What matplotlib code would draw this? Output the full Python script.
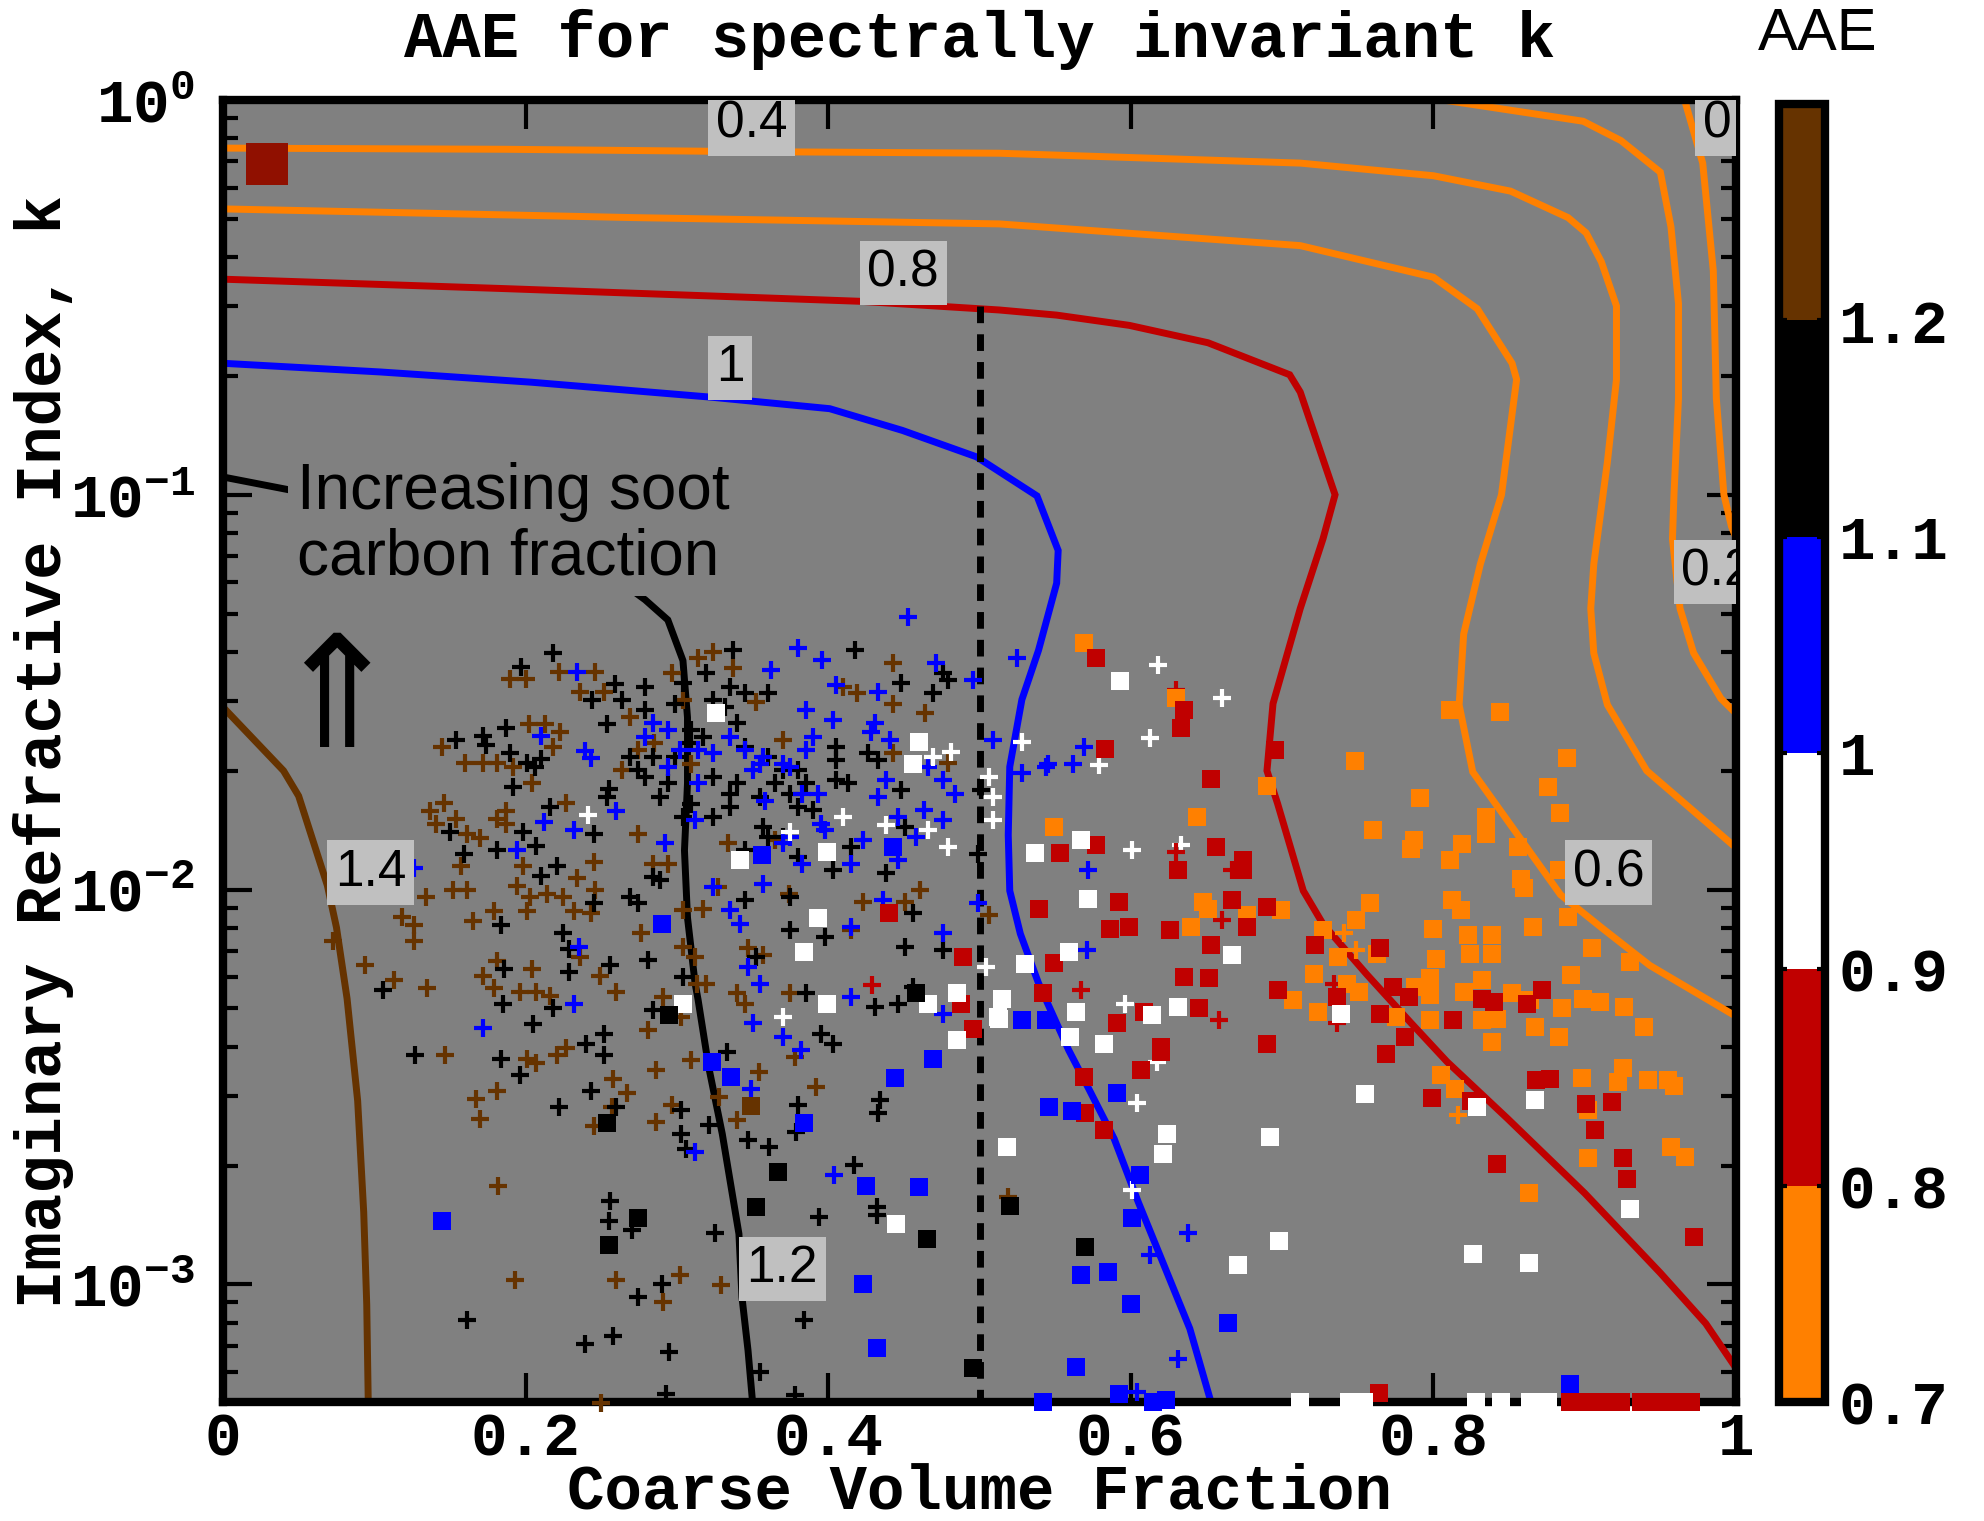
import numpy as np
import matplotlib.pyplot as plt
from matplotlib.colors import ListedColormap, BoundaryNorm
from matplotlib.cm import ScalarMappable
from matplotlib.ticker import FixedLocator, NullLocator, LogLocator, FuncFormatter
from matplotlib.transforms import offset_copy

plt.rcParams['mathtext.fontset'] = 'custom'
plt.rcParams['mathtext.rm'] = 'Liberation Mono:bold'
plt.rcParams['mathtext.bf'] = 'Liberation Mono:bold'
plt.rcParams['mathtext.it'] = 'Liberation Mono:bold'

MONO = 'Liberation Mono'
SANS = 'Liberation Sans'

# colours used for AAE classes
c_brown, c_black, c_blue = '#663300', '#000000', '#0000FF'
c_white, c_red, c_orange = '#FFFFFF', '#C00000', '#FF8000'
c_bg, c_lab = '#808080', '#C0C0C0'

# ---- contour lines (x = coarse fraction, lk = log10 k) ----
c14_x = [0, 0.040, 0.050, 0.069, 0.075, 0.082, 0.089, 0.093, 0.095, 0.096]
c14_lk = [-1.538, -1.699, -1.763, -1.990, -2.096, -2.276, -2.535, -2.817, -3.051, -3.298]

c12_x = [0, 0.047, 0.104, 0.171, 0.221, 0.254, 0.279, 0.294, 0.304, 0.307, 0.307, 0.305, 0.307,
         0.312, 0.314, 0.321, 0.330, 0.341, 0.343, 0.347, 0.350]
c12_lk = [-0.955, -0.990, -1.022, -1.067, -1.131, -1.196, -1.266, -1.317, -1.420, -1.564, -1.731,
          -1.901, -2.071, -2.237, -2.279, -2.449, -2.619, -2.872, -3.032, -3.167, -3.298]

c10_x = [0, 0.104, 0.204, 0.323, 0.401, 0.449, 0.498, 0.538, 0.552, 0.551, 0.539, 0.528, 0.520,
         0.519, 0.520, 0.527, 0.539, 0.559, 0.572, 0.589, 0.605, 0.622, 0.639, 0.653]
c10_lk = [-0.667, -0.689, -0.715, -0.753, -0.782, -0.837, -0.904, -1.003, -1.141, -1.224, -1.394,
          -1.519, -1.689, -1.862, -2.003, -2.112, -2.237, -2.407, -2.503, -2.631, -2.792, -2.952,
          -3.112, -3.298]

c08_x = [0, 0.187, 0.421, 0.513, 0.551, 0.599, 0.651, 0.705, 0.712, 0.735, 0.727, 0.712, 0.694,
         0.690, 0.697, 0.714, 0.727, 0.756, 0.785, 0.809, 0.849, 0.900, 0.950, 0.980, 1.0]
c08_lk = [-0.454, -0.478, -0.510, -0.532, -0.545, -0.571, -0.615, -0.696, -0.740, -1.0, -1.112,
          -1.288, -1.529, -1.699, -1.782, -2.003, -2.087, -2.215, -2.337, -2.436, -2.580, -2.769,
          -2.971, -3.099, -3.212]

c04_x = [0, 0.187, 0.350, 0.513, 0.712, 0.800, 0.851, 0.889, 0.901, 0.911, 0.921, 0.921, 0.915,
         0.906, 0.904, 0.906, 0.915, 0.941, 1.0]
c04_lk = [-0.122, -0.125, -0.131, -0.135, -0.160, -0.192, -0.231, -0.298, -0.337, -0.410, -0.522,
          -0.708, -0.917, -1.176, -1.288, -1.401, -1.532, -1.699, -1.894]

c06_x = [0, 0.271, 0.513, 0.712, 0.800, 0.829, 0.852, 0.855, 0.845, 0.831, 0.820, 0.817, 0.826,
         0.884, 0.911, 0.943, 1.0]
c06_lk = [-0.276, -0.298, -0.314, -0.369, -0.449, -0.529, -0.667, -0.708, -1.0, -1.176, -1.353,
          -1.532, -1.702, -2.013, -2.096, -2.192, -2.321]

c02_x = [0.806, 0.899, 0.924, 0.950, 0.957, 0.962, 0.962, 0.959, 0.958, 0.963, 0.972, 0.990, 1.0]
c02_lk = [0.0, -0.054, -0.103, -0.183, -0.321, -0.516, -0.756, -1.0, -1.112, -1.288, -1.401,
          -1.516, -1.554]

c00_x = [0.966, 0.978, 0.985, 0.987, 0.992, 0.997, 1.0]
c00_lk = [0.0, -0.160, -0.433, -0.756, -1.0, -1.08, -1.109]

contours = [(c14_x, c14_lk, c_brown), (c12_x, c12_lk, c_black), (c10_x, c10_lk, c_blue),
            (c08_x, c08_lk, c_red), (c04_x, c04_lk, c_orange), (c06_x, c06_lk, c_orange),
            (c02_x, c02_lk, c_orange), (c00_x, c00_lk, c_orange)]

# contour labels: text, x, log10 k of the lower-left corner
label_text = ['0.4', '0.8', '1', '1.4', '1.2', '0.6', '0.2', '0']
label_x = [0.321, 0.421, 0.321, 0.069, 0.341, 0.887, 0.959, 0.973]
label_lk = [-0.141, -0.519, -0.760, -2.038, -3.042, -2.038, -1.276, -0.141]

split_x, split_top_lk = 0.5, -0.522
ref_x, ref_lk = 0.029, -0.163

# ---- measurements: (coarse fraction, log10 k) ----
brown_plus = [
    (0.190, -1.467), (0.200, -1.467), (0.222, -1.448), (0.246, -1.448), (0.236, -1.50), (0.252, -1.50),
    (0.145, -1.64), (0.160, -1.68), (0.172, -1.68), (0.181, -1.68), (0.192, -1.69), (0.202, -1.58),
    (0.213, -1.58), (0.223, -1.60), (0.218, -1.64), (0.204, -1.73), (0.137, -1.80), (0.146, -1.78),
    (0.141, -1.835), (0.154, -1.82), (0.161, -1.86), (0.170, -1.87), (0.157, -1.94), (0.181, -1.82),
    (0.187, -1.835), (0.187, -1.80), (0.227, -1.78), (0.245, -1.93), (0.234, -1.97), (0.198, -1.94),
    (0.194, -1.99), (0.203, -2.02), (0.214, -2.01), (0.225, -2.02), (0.232, -2.055), (0.246, -2.00),
    (0.243, -2.06), (0.201, -2.055), (0.179, -2.055), (0.165, -2.08), (0.152, -2.00), (0.161, -2.00),
    (0.134, -2.02), (0.118, -2.07), (0.126, -2.09), (0.126, -2.13), (0.073, -2.13), (0.094, -2.19),
    (0.113, -2.23), (0.135, -2.25), (0.172, -2.22), (0.181, -2.18), (0.179, -2.25), (0.196, -2.26),
    (0.204, -2.20), (0.207, -2.26), (0.216, -2.27), (0.236, -2.17), (0.249, -2.22), (0.260, -2.26),
    (0.201, -2.43), (0.207, -2.44), (0.221, -2.42), (0.227, -2.40), (0.147, -2.42), (0.167, -2.53),
    (0.181, -2.51), (0.170, -2.58), (0.245, -2.60), (0.258, -2.48), (0.257, -2.55), (0.182, -2.75),
    (0.193, -2.99), (0.260, -2.99),
    (0.314, -1.414), (0.324, -1.398), (0.337, -1.44), (0.297, -1.452), (0.304, -1.52), (0.269, -1.562),
    (0.352, -1.524), (0.443, -1.427), (0.464, -1.554), (0.443, -1.529), (0.410, -1.486), (0.419, -1.503),
    (0.443, -1.655), (0.479, -1.68), (0.327, -1.993), (0.415, -2.103), (0.423, -2.031), (0.451, -2.031),
    (0.345, -2.289), (0.375, -2.263), (0.304, -2.145), (0.312, -2.17), (0.313, -2.238), (0.319, -2.238),
    (0.281, -2.356), (0.303, -2.322), (0.291, -2.272), (0.276, -2.111), (0.284, -1.934), (0.294, -1.934),
    (0.274, -1.858), (0.317, -2.048), (0.304, -2.052), (0.506, -2.065), (0.357, -2.166), (0.347, -2.149),
    (0.365, -1.875), (0.374, -2.01), (0.334, -1.883), (0.264, -1.697), (0.274, -1.647), (0.370, -1.621),
    (0.309, -1.681), (0.285, -1.63), (0.461, -2.00), (0.340, -2.263),
    (0.309, -2.432), (0.354, -2.462), (0.328, -2.525), (0.340, -2.584), (0.392, -2.50), (0.378, -2.424),
    (0.286, -2.457), (0.267, -2.516), (0.297, -2.546), (0.286, -2.588), (0.329, -3.002), (0.302, -2.977),
    (0.291, -3.044), (0.519, -2.778), (0.250, -3.30)]

black_plus = [
    (0.218, -1.40), (0.197, -1.435), (0.244, -1.52), (0.259, -1.48), (0.154, -1.62), (0.172, -1.61),
    (0.187, -1.59), (0.190, -1.655), (0.174, -1.635), (0.201, -1.68), (0.210, -1.67), (0.206, -1.69),
    (0.192, -1.74), (0.254, -1.58), (0.255, -1.745), (0.254, -1.765), (0.216, -1.79), (0.150, -1.855),
    (0.159, -1.91), (0.181, -1.90), (0.198, -1.855), (0.207, -1.89), (0.210, -1.965), (0.221, -1.94),
    (0.245, -1.86), (0.245, -2.035), (0.184, -2.09), (0.225, -2.11), (0.229, -2.15), (0.229, -2.21),
    (0.186, -2.20), (0.256, -2.19), (0.106, -2.255), (0.185, -2.29), (0.218, -2.30), (0.205, -2.34),
    (0.240, -2.39), (0.252, -2.365), (0.252, -2.42), (0.127, -2.42), (0.184, -2.43), (0.196, -2.47),
    (0.243, -2.51), (0.222, -2.55), (0.260, -2.55), (0.256, -2.79), (0.255, -2.84), (0.161, -3.09),
    (0.239, -3.15), (0.258, -3.13),
    (0.337, -1.393), (0.319, -1.452), (0.335, -1.486), (0.345, -1.503), (0.360, -1.503), (0.304, -1.478),
    (0.299, -1.529), (0.279, -1.545), (0.279, -1.486), (0.264, -1.52), (0.309, -1.596), (0.317, -1.613),
    (0.332, -1.537), (0.324, -1.52), (0.340, -1.579), (0.345, -1.638), (0.360, -1.664), (0.370, -1.697),
    (0.380, -1.697), (0.385, -1.731), (0.375, -1.757), (0.380, -1.79), (0.390, -1.799), (0.365, -1.731),
    (0.355, -1.765), (0.340, -1.731), (0.335, -1.757), (0.324, -1.714), (0.335, -1.79), (0.324, -1.816),
    (0.309, -1.782), (0.304, -1.816), (0.294, -1.731), (0.289, -1.765), (0.279, -1.714), (0.274, -1.697),
    (0.269, -1.664), (0.284, -1.664), (0.299, -1.664), (0.309, -1.63), (0.345, -1.90), (0.357, -1.841),
    (0.360, -1.866), (0.370, -1.866), (0.380, -1.917), (0.352, -2.17), (0.345, -2.027), (0.375, -2.018),
    (0.375, -2.103), (0.398, -2.12), (0.418, -1.393), (0.448, -1.478), (0.469, -1.503), (0.476, -1.452),
    (0.479, -1.469), (0.405, -1.638), (0.405, -1.672), (0.426, -1.655), (0.433, -1.672), (0.448, -1.748),
    (0.451, -1.841), (0.405, -1.723), (0.413, -1.731), (0.403, -1.951), (0.415, -1.892), (0.438, -1.959),
    (0.501, -1.748), (0.499, -1.909), (0.456, -2.06), (0.451, -2.145), (0.476, -2.154), (0.385, -2.263),
    (0.431, -2.297), (0.446, -2.289), (0.456, -2.246), (0.395, -2.365), (0.403, -2.39), (0.304, -2.221),
    (0.281, -2.179), (0.284, -1.968), (0.289, -1.976), (0.269, -2.018), (0.274, -2.035), (0.284, -2.306),
    (0.333, -2.411), (0.303, -2.559), (0.321, -2.597), (0.303, -2.618), (0.306, -2.656), (0.347, -2.635),
    (0.361, -2.652), (0.380, -2.546), (0.379, -2.614), (0.434, -2.533), (0.433, -2.567), (0.417, -2.698),
    (0.432, -2.804), (0.432, -2.825), (0.394, -2.829), (0.325, -2.871), (0.270, -2.863), (0.290, -2.998),
    (0.274, -3.032), (0.384, -3.091), (0.295, -3.171), (0.355, -3.222), (0.293, -3.277), (0.378, -3.281)]

blue_plus = [
    (0.234, -1.448), (0.210, -1.61), (0.239, -1.65), (0.243, -1.667), (0.212, -1.83), (0.232, -1.85),
    (0.194, -1.90), (0.235, -2.146), (0.232, -2.29), (0.172, -2.35), (0.260, -1.80), (0.126, -1.945),
    (0.453, -1.309), (0.380, -1.389), (0.396, -1.419), (0.362, -1.444), (0.471, -1.427), (0.496, -1.469),
    (0.433, -1.499), (0.405, -1.482), (0.385, -1.545), (0.431, -1.579), (0.428, -1.60), (0.441, -1.621),
    (0.403, -1.571), (0.390, -1.613), (0.385, -1.647), (0.357, -1.664), (0.370, -1.681), (0.375, -1.689),
    (0.355, -1.681), (0.350, -1.697), (0.345, -1.647), (0.335, -1.613), (0.324, -1.655), (0.314, -1.647),
    (0.302, -1.647), (0.294, -1.596), (0.284, -1.579), (0.279, -1.613), (0.294, -1.689), (0.314, -1.731),
    (0.358, -1.775), (0.383, -1.757), (0.393, -1.757), (0.395, -1.833), (0.398, -1.849), (0.375, -1.866),
    (0.370, -1.883), (0.383, -1.934), (0.415, -1.934), (0.446, -1.925), (0.423, -1.875), (0.433, -1.765),
    (0.438, -1.723), (0.466, -1.689), (0.476, -1.723), (0.484, -1.757), (0.463, -1.799), (0.476, -1.824),
    (0.458, -1.866), (0.446, -1.816), (0.312, -1.824), (0.292, -1.883), (0.324, -1.993), (0.335, -2.052),
    (0.342, -2.086), (0.357, -1.985), (0.415, -2.094), (0.436, -2.027), (0.476, -2.111), (0.347, -2.196),
    (0.355, -2.238), (0.415, -2.272), (0.476, -2.314), (0.350, -2.339), (0.499, -2.035), (0.509, -1.621),
    (0.370, -2.373),
    (0.525, -1.414), (0.528, -1.706), (0.544, -1.689), (0.562, -1.681), (0.569, -1.638), (0.572, -1.951),
    (0.571, -2.154), (0.545, -1.681),
    (0.349, -2.504), (0.312, -2.664), (0.404, -2.723), (0.382, -2.407),
    (0.638, -2.871), (0.613, -2.926), (0.631, -3.188), (0.604, -3.272)]

white_plus = [
    (0.241, -1.81), (0.410, -1.816), (0.438, -1.837), (0.469, -1.664), (0.481, -1.651), (0.479, -1.892),
    (0.506, -1.714), (0.509, -1.765), (0.509, -1.824), (0.370, -2.322), (0.504, -2.196), (0.466, -1.85),
    (0.375, -1.854), (0.618, -1.431), (0.660, -1.516), (0.613, -1.617), (0.579, -1.685), (0.528, -1.626),
    (0.601, -1.90), (0.633, -1.887), (0.596, -2.289), (0.601, -2.761), (0.604, -2.54), (0.617, -2.436)]

red_plus = [(0.429, -2.242), (0.630, -1.495), (0.630, -1.904), (0.667, -1.951), (0.660, -2.078),
            (0.567, -2.255), (0.658, -2.331), (0.734, -2.238), (0.736, -2.339)]

orange_plus = [(0.741, -2.111), (0.749, -2.154), (0.816, -2.571)]

orange_sq = [
    (0.569, -1.376), (0.630, -1.516), (0.549, -1.841), (0.644, -1.816), (0.690, -1.738), (0.748, -1.675),
    (0.791, -1.769), (0.811, -1.544), (0.844, -1.55), (0.888, -1.668), (0.876, -1.741), (0.884, -1.807),
    (0.835, -1.816), (0.835, -1.858), (0.819, -1.885), (0.811, -1.925), (0.787, -1.875), (0.785, -1.896),
    (0.760, -1.849), (0.856, -1.892), (0.858, -1.972), (0.860, -1.997), (0.883, -1.951), (0.889, -2.069),
    (0.812, -2.027), (0.818, -2.052), (0.866, -2.094), (0.905, -2.149), (0.930, -2.183), (0.891, -2.217),
    (0.839, -2.116), (0.823, -2.116), (0.839, -2.162), (0.824, -2.162), (0.802, -2.175), (0.800, -2.099),
    (0.758, -2.035), (0.749, -2.078), (0.763, -2.162), (0.737, -2.17), (0.727, -2.103), (0.721, -2.213),
    (0.743, -2.238), (0.751, -2.259), (0.707, -2.28), (0.724, -2.31), (0.798, -2.225), (0.788, -2.246),
    (0.798, -2.267), (0.820, -2.259), (0.832, -2.23), (0.852, -2.263), (0.864, -2.28), (0.885, -2.301),
    (0.899, -2.276), (0.910, -2.284), (0.926, -2.297), (0.939, -2.348), (0.832, -2.331), (0.842, -2.327),
    (0.798, -2.331), (0.775, -2.322), (0.648, -2.031), (0.640, -2.094), (0.677, -2.065), (0.699, -2.052),
    (0.867, -2.348), (0.883, -2.373), (0.839, -2.386), (0.651, -2.05),
    (0.805, -2.47), (0.814, -2.506), (0.898, -2.476), (0.925, -2.453), (0.922, -2.487), (0.942, -2.483),
    (0.955, -2.483), (0.959, -2.498), (0.902, -2.559), (0.957, -2.652), (0.966, -2.677), (0.902, -2.681),
    (0.863, -2.768)]

red_sq = [
    (0.440, -2.06), (0.489, -2.17), (0.488, -2.289), (0.496, -2.352),
    (0.577, -1.414), (0.635, -1.544), (0.633, -1.592), (0.583, -1.645), (0.653, -1.719), (0.577, -1.887),
    (0.553, -1.907), (0.656, -1.892), (0.631, -1.951), (0.674, -1.925), (0.674, -1.951), (0.592, -2.031),
    (0.539, -2.05), (0.586, -2.099), (0.599, -2.094), (0.626, -2.103), (0.667, -2.027), (0.653, -2.141),
    (0.690, -2.044), (0.677, -2.094), (0.635, -2.221), (0.652, -2.225), (0.549, -2.187), (0.542, -2.263),
    (0.697, -2.255), (0.722, -2.141), (0.736, -2.272), (0.765, -2.314), (0.773, -2.246), (0.784, -2.272),
    (0.813, -2.331), (0.832, -2.276), (0.840, -2.284), (0.872, -2.255), (0.862, -2.289), (0.781, -2.373),
    (0.765, -2.149), (0.695, -1.647), (0.645, -2.301), (0.591, -2.339), (0.609, -2.31), (0.690, -2.39),
    (0.620, -2.398),
    (0.569, -2.474), (0.570, -2.565), (0.582, -2.608),
    (0.769, -2.417), (0.799, -2.529), (0.825, -2.536), (0.842, -2.694), (0.868, -2.483), (0.877, -2.481),
    (0.901, -2.542), (0.918, -2.538), (0.907, -2.608), (0.925, -2.681), (0.928, -2.732), (0.972, -2.881),
    (0.607, -2.457), (0.620, -2.411), (0.764, -3.275)]

white_sq = [
    (0.326, -1.552), (0.460, -1.626), (0.456, -1.681), (0.399, -1.904), (0.342, -1.925), (0.393, -2.073),
    (0.384, -2.158), (0.304, -2.289), (0.399, -2.289), (0.485, -2.263), (0.466, -2.289), (0.485, -2.382),
    (0.512, -2.322),
    (0.593, -1.472), (0.537, -1.907), (0.567, -1.875), (0.572, -2.023), (0.530, -2.189), (0.559, -2.158),
    (0.515, -2.276), (0.513, -2.327), (0.564, -2.31), (0.631, -2.297), (0.667, -2.166), (0.614, -2.318),
    (0.560, -2.373), (0.582, -2.39), (0.739, -2.314),
    (0.518, -2.652), (0.445, -2.848),
    (0.624, -2.618), (0.621, -2.67), (0.692, -2.626), (0.755, -2.519), (0.867, -2.532), (0.829, -2.55),
    (0.930, -2.808), (0.698, -2.89), (0.671, -2.951), (0.826, -2.924), (0.863, -2.945)]

blue_sq = [
    (0.443, -1.892), (0.356, -1.913), (0.290, -2.086), (0.528, -2.331), (0.544, -2.331), (0.145, -2.84),
    (0.323, -2.436), (0.336, -2.474), (0.384, -2.591), (0.444, -2.476), (0.469, -2.43), (0.425, -2.751),
    (0.460, -2.753), (0.423, -3.0), (0.432, -3.16), (0.546, -2.55), (0.561, -2.561), (0.591, -2.516),
    (0.567, -2.977), (0.585, -2.968), (0.600, -3.049), (0.601, -2.833), (0.564, -3.209), (0.592, -3.277),
    (0.542, -3.298), (0.606, -2.723), (0.664, -3.097), (0.615, -3.298), (0.623, -3.294), (0.890, -3.253)]

black_sq = [(0.295, -2.318), (0.458, -2.263), (0.254, -2.59), (0.255, -2.90), (0.367, -2.715),
            (0.352, -2.804), (0.465, -2.886), (0.570, -2.905), (0.496, -3.213), (0.274, -2.833),
            (0.520, -2.802)]

brown_sq = [(0.349, -2.549)]

# points sitting on the lower axis limit
white_edge_x = [0.712, 0.744, 0.754, 0.828, 0.845, 0.864, 0.876]
red_edge_x = [0.890, 0.902, 0.913, 0.924, 0.937, 0.948, 0.959, 0.970]

# colour bar
aae_bounds = [0.7, 0.8, 0.9, 1.0, 1.1, 1.2, 1.3]
aae_colors = [c_orange, c_red, c_white, c_blue, c_black, c_brown]
aae_ticks = [0.7, 0.8, 0.9, 1.0, 1.1, 1.2]
aae_ticklabels = ['0.7', '0.8', '0.9', '1', '1.1', '1.2']

ymin_lk, ymax_lk = -3.298, 0.0

fig = plt.figure(figsize=(19.84, 15.21), dpi=100)
ax = fig.add_axes([0.1124, 0.0782, 0.7626, 0.8561])
ax.set_facecolor(c_bg)
ax.set_yscale('log')
ax.set_xlim(0, 1)
ax.set_ylim(10 ** ymin_lk, 10 ** ymax_lk)

for cx, clk, col in contours:
    ax.plot(cx, 10 ** np.array(clk), color=col, lw=5.0, zorder=2, solid_joinstyle='miter')

ax.plot([split_x, split_x], [10 ** split_top_lk, 10 ** ymin_lk], color='k', lw=5,
        ls=(0, (2.4, 1.6)), zorder=2)


def pts(lst):
    a = np.array(lst)
    return a[:, 0], 10 ** a[:, 1]


plus_groups = [(brown_plus, c_brown), (black_plus, c_black), (blue_plus, c_blue),
               (white_plus, c_white), (red_plus, c_red), (orange_plus, c_orange)]
for lst, col in plus_groups:
    x, k = pts(lst)
    ax.scatter(x, k, marker='+', s=150, linewidths=3.0, color=col, zorder=4, clip_on=False)

sq_groups = [(orange_sq, c_orange), (red_sq, c_red), (white_sq, c_white), (blue_sq, c_blue),
             (black_sq, c_black), (brown_sq, c_brown)]
for lst, col in sq_groups:
    x, k = pts(lst)
    ax.scatter(x, k, marker='s', s=155, linewidths=0, color=col, zorder=4, clip_on=False)

ax.scatter(white_edge_x, [10 ** ymin_lk] * len(white_edge_x), marker='s', s=155, linewidths=0,
           color=c_white, zorder=5, clip_on=False)
ax.scatter(red_edge_x, [10 ** ymin_lk] * len(red_edge_x), marker='s', s=155, linewidths=0,
           color=c_red, zorder=5, clip_on=False)

ax.scatter([ref_x], [10 ** ref_lk], marker='s', s=900, linewidths=0, color='#901000', zorder=4)

# contour labels
lab_tr = offset_copy(ax.transData, fig=fig, x=5.4, y=5.4, units='points')
for s, lx, llk in zip(label_text, label_x, label_lk):
    ax.text(lx, 10 ** llk, s, transform=lab_tr, fontsize=37, family=SANS, ha='left', va='bottom',
            zorder=6, clip_on=True,
            bbox=dict(boxstyle='square,pad=0.15', facecolor=c_lab, edgecolor='none'))

ax.text(0.049, 10 ** -1.075, 'Increasing soot\ncarbon fraction', fontsize=46, family=SANS,
        ha='left', va='center', linespacing=1.12, zorder=3,
        bbox=dict(boxstyle='square,pad=0.14', facecolor=c_bg, edgecolor='none'))
ax.text(0.075, 10 ** -1.53, '\u21d1', fontsize=112, family='DejaVu Sans', ha='center',
        va='center', zorder=3)

# axes styling
for sp in ax.spines.values():
    sp.set_linewidth(6)
    sp.set_zorder(3)
ax.xaxis.set_major_locator(FixedLocator([0, 0.2, 0.4, 0.6, 0.8, 1.0]))
ax.xaxis.set_minor_locator(NullLocator())
ax.set_xticklabels(['0', '0.2', '0.4', '0.6', '0.8', '1'])
ax.yaxis.set_major_locator(FixedLocator([1e-3, 1e-2, 1e-1, 1]))
ax.yaxis.set_minor_locator(LogLocator(base=10, subs=np.arange(2, 10), numticks=20))
ax.yaxis.set_major_formatter(FuncFormatter(lambda v, p: r'$\mathbf{10^{%d}}$' % round(np.log10(v))))
ax.tick_params(which='major', direction='in', length=21, width=3, top=True, right=True, pad=6)
ax.tick_params(axis='y', which='minor', direction='in', length=11, width=3, left=True, right=True)
ax.tick_params(axis='y', which='major', pad=20)
for t in ax.get_xticklabels() + ax.get_yticklabels():
    t.set_fontfamily(MONO)
    t.set_fontweight('bold')
    t.set_fontsize(44)

fig.text(0.4937, 0.974, 'AAE for spectrally invariant k', fontsize=46, family=MONO,
         weight='bold', ha='center', va='center')
fig.text(0.4937, 0.019, 'Coarse Volume Fraction', fontsize=45, family=MONO, weight='bold',
         ha='center', va='center')
fig.text(0.022, 0.506, 'Imaginary Refractive Index, k', fontsize=46, family=MONO, weight='bold',
         ha='center', va='center', rotation=90)

# colour bar
cax = fig.add_axes([0.8967, 0.0782, 0.0232, 0.8534])
cmap = ListedColormap(aae_colors)
norm = BoundaryNorm(aae_bounds, cmap.N)
cb = fig.colorbar(ScalarMappable(norm=norm, cmap=cmap), cax=cax, ticks=aae_ticks)
cb.ax.set_yticklabels(aae_ticklabels)
cb.outline.set_linewidth(6)
cb.ax.tick_params(direction='in', length=6, width=3, left=True, right=True, pad=10)
for t in cb.ax.get_yticklabels():
    t.set_fontfamily(MONO)
    t.set_fontweight('bold')
    t.set_fontsize(44)
fig.text(0.916, 0.977, 'AAE', fontsize=43, family=SANS, ha='center', va='center')

fig.savefig('out.png', dpi=100, facecolor='white')
